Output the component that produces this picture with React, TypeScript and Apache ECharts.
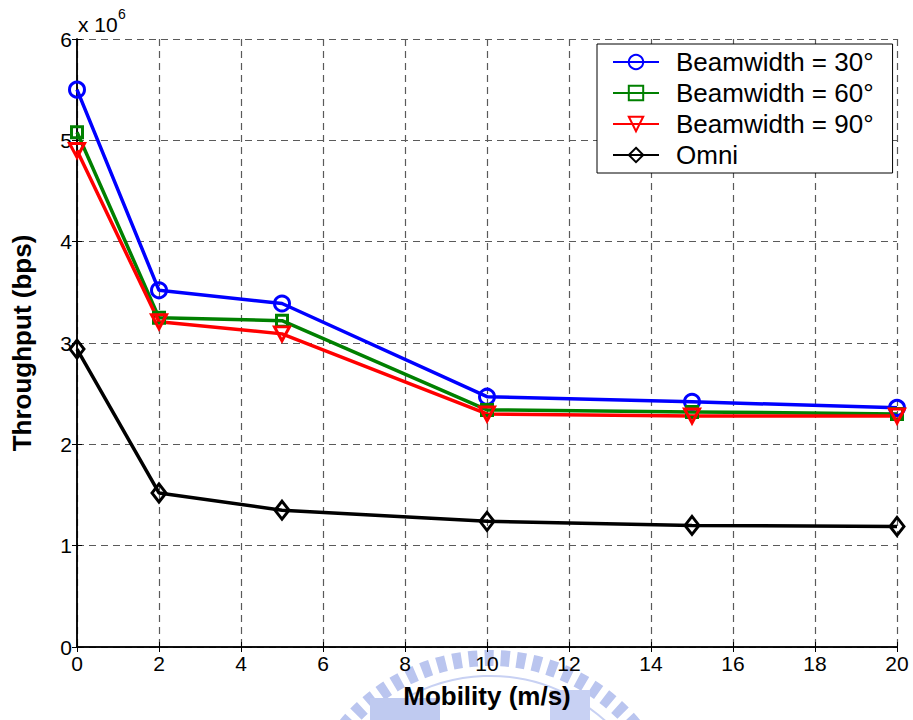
import React, { useEffect, useRef } from "react";
import * as echarts from "echarts";

const mobility = [0, 2, 5, 10, 15, 20];
const beam30 = [5.5, 3.52, 3.39, 2.47, 2.42, 2.36];
const beam60 = [5.08, 3.25, 3.22, 2.34, 2.32, 2.3];
const beam90 = [4.9, 3.21, 3.09, 2.3, 2.28, 2.28];
const omni = [2.94, 1.52, 1.35, 1.24, 1.2, 1.19];
const seriesNames = ["Beamwidth = 30°", "Beamwidth = 60°", "Beamwidth = 90°", "Omni"];

const FONT = "Liberation Sans, Arial, Helvetica, sans-serif";

export default function App() {
  const ref = useRef<HTMLDivElement>(null);
  useEffect(() => {
    if (!ref.current) return;
    const chart = echarts.init(ref.current, null, { renderer: "svg" });
    const toPairs = (ys: number[]) => mobility.map((x, i) => [x, ys[i]]);
    const mk = (name: string, ys: number[], color: string, symbol: string, size: any, rotate = 0) => ({
      name,
      type: "line",
      data: toPairs(ys),
      symbol,
      symbolSize: size,
      symbolRotate: rotate,
      showAllSymbol: true,
      lineStyle: { color, width: 3.5 },
      itemStyle: { color: "rgba(255,255,255,0)", borderColor: color, borderWidth: 3 },
      emphasis: { disabled: true },
      z: 3,
    });
    const gridLine = { show: true, lineStyle: { color: "#5a5a5a", type: [7, 5], width: 1.2 } };
    const axisLine = { show: true, lineStyle: { color: "#000", width: 1.5 } };
    const tick = { show: true, inside: true, length: 5, lineStyle: { color: "#000" } };
    chart.setOption({
      animation: false,
      backgroundColor: "#fff",
      textStyle: { fontFamily: FONT },
      grid: { left: 77, top: 39, width: 820, height: 608, containLabel: false },
      legend: {
        orient: "vertical",
        left: 597,
        top: 44,
        data: seriesNames,
        backgroundColor: "#fff",
        borderColor: "#000",
        borderWidth: 1,
        borderRadius: 0,
        padding: [5, 19, 5, 15],
        itemWidth: 46,
        itemHeight: 18,
        itemGap: 5,
        textStyle: { fontSize: 26, color: "#000", fontFamily: FONT, padding: [0, 0, 0, 12] },
      },
      xAxis: [
        {
          type: "value",
          min: 0,
          max: 20,
          interval: 2,
          position: "bottom",
          axisLine,
          axisTick: tick,
          splitLine: gridLine,
          axisLabel: { fontSize: 21, color: "#000", margin: 6, fontFamily: FONT },
          name: "Mobility (m/s)",
          nameLocation: "middle",
          nameGap: 36,
          nameTextStyle: { fontSize: 26, fontWeight: "bold", color: "#000", fontFamily: FONT },
        },
        {
          type: "value",
          min: 0,
          max: 20,
          interval: 2,
          position: "top",
          axisLine,
          axisTick: tick,
          splitLine: { show: false },
          axisLabel: { show: false },
        },
      ],
      yAxis: [
        {
          type: "value",
          min: 0,
          max: 6,
          interval: 1,
          position: "left",
          axisLine,
          axisTick: tick,
          splitLine: gridLine,
          axisLabel: { fontSize: 21, color: "#000", margin: 5, fontFamily: FONT },
          name: "Throughput (bps)",
          nameLocation: "middle",
          nameGap: 42,
          nameTextStyle: { fontSize: 26, fontWeight: "bold", color: "#000", fontFamily: FONT },
        },
        {
          type: "value",
          min: 0,
          max: 6,
          interval: 1,
          position: "right",
          axisLine,
          axisTick: tick,
          splitLine: { show: false },
          axisLabel: { show: false },
        },
      ],
      graphic: [
        {
          type: "circle",
          z: -10,
          silent: true,
          shape: { cx: 490, cy: 846, r: 188 },
          style: { fill: "none", stroke: "#bac5ef", lineWidth: 16, lineDash: [9, 7] },
        },
        {
          type: "circle",
          z: -10,
          silent: true,
          shape: { cx: 490, cy: 846, r: 170 },
          style: { fill: "none", stroke: "#c8d1f3", lineWidth: 2 },
        },
        {
          type: "rect",
          z: -10,
          silent: true,
          shape: { x: 370, y: 698, width: 70, height: 22 },
          style: { fill: "#bfcaf0" },
        },
        {
          type: "rect",
          z: -10,
          silent: true,
          shape: { x: 550, y: 690, width: 40, height: 30 },
          style: { fill: "#c8d1f3" },
        },
        {
          type: "text",
          left: 78,
          top: 14,
          style: { text: "x 10", fontSize: 21, fill: "#000", fontFamily: FONT },
        },
        {
          type: "text",
          left: 118,
          top: 7,
          style: { text: "6", fontSize: 14, fill: "#000", fontFamily: FONT },
        },
      ],
      series: [
        mk(seriesNames[0], beam30, "#0000ff", "circle", 15),
        mk(seriesNames[1], beam60, "#008000", "rect", 11),
        mk(seriesNames[2], beam90, "#ff0000", "triangle", [15, 14], 180),
        mk(seriesNames[3], omni, "#000000", "diamond", [14, 18]),
      ],
    });
    return () => chart.dispose();
  }, []);
  return (
    <div
      ref={ref}
      style={{ position: "fixed", left: 0, top: 0, width: 913, height: 720, background: "#fff" }}
    />
  );
}
